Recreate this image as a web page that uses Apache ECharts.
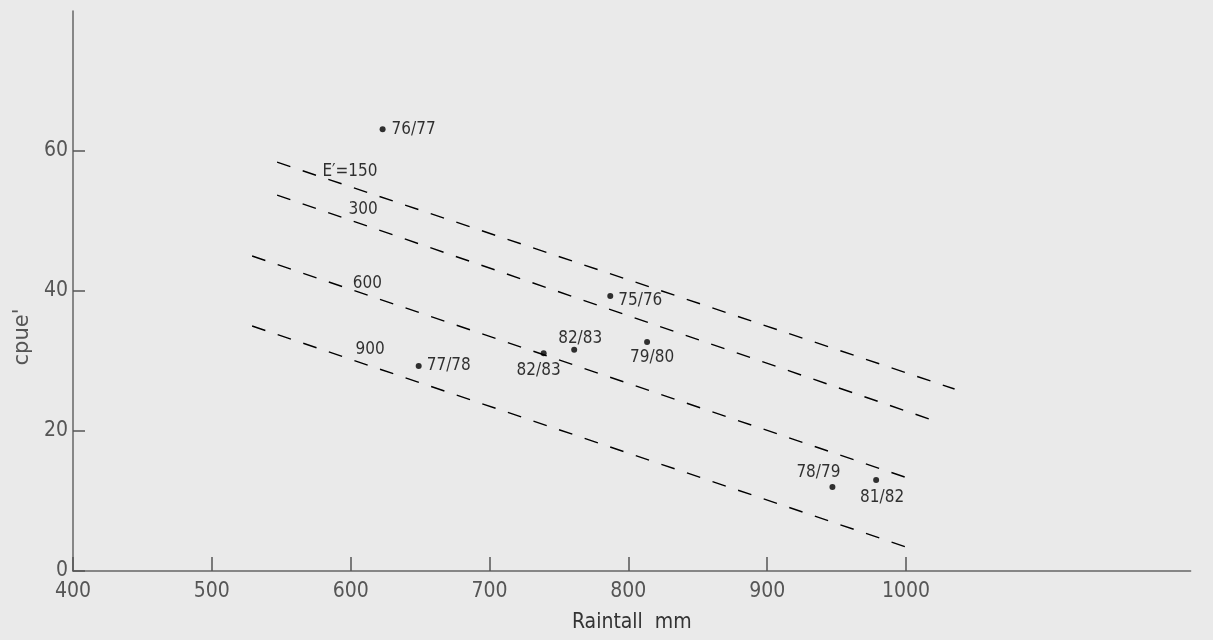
<!DOCTYPE html>
<html>
<head>
<meta charset="utf-8">
<script src="https://cdn.jsdelivr.net/npm/echarts@6/dist/echarts.min.js"></script>
<style>
html,body{margin:0;padding:0;background:#eaeaea}
#main{width:1213px;height:640px}
</style>
</head>
<body>
<div id="main"></div>
<script>
// 年度标签
var seasons = ['76/77', '75/76', '82/83', '82/83', '79/80', '77/78', '78/79', '81/82'];
// 降雨量 (mm)
var rainfall = [623, 787, 739, 761, 813.5, 649, 947, 978.5];
// cpue'
var cpue = [63.1, 39.3, 31.1, 31.6, 32.7, 29.3, 12, 13];

// 等 E' 虚线
var lineLabels = ['E′=150', '300', '600', '900'];
var lineStartX = [547, 547, 529, 529];
var lineStartY = [58.4, 53.7, 45, 35];
var lineEndX = [1035, 1017, 999.5, 1000.5];
var lineEndY = [26, 21.7, 13.4, 3.4];
// 虚线标注位置
var lineLabelX = [599.5, 609, 612, 614];
var lineLabelY = [57.1, 51.7, 41.1, 31.7];

// 刻度
var xTicks = [400, 500, 600, 700, 800, 900, 1000];
var yTicks = [0, 20, 40, 60];

var fontName = '"DejaVu Sans Condensed", "DejaVu Sans", sans-serif';
var ink = '#000';

// 点标签的摆放
var pointLabelPos = [
	{position: 'right', distance: 6},
	{position: 'right', distance: 5, offset: [0, 5]},
	{position: 'bottom', distance: 6, offset: [-5, 0]},
	{position: 'top', distance: 0, offset: [6, 0]},
	{position: 'bottom', distance: 4, offset: [5, 0]},
	{position: 'right', distance: 5},
	{position: 'top', distance: 3, offset: [-14, 0]},
	{position: 'bottom', distance: 6, offset: [6, 0]}
];

var pointData = [];
for (var i = 0; i < seasons.length; i++) {
	var p = pointLabelPos[i];
	pointData.push({
		name: seasons[i],
		value: [rainfall[i], cpue[i]],
		label: {position: p.position, distance: p.distance, offset: p.offset || [0, 0]}
	});
}

var series = [];
for (var k = 0; k < lineLabels.length; k++) {
	series.push({
		type: 'line',
		xAxisIndex: 1,
		yAxisIndex: 1,
		silent: true,
		symbol: 'none',
		lineStyle: {color: ink, width: 1.4, type: [14, 13]},
		data: [[lineStartX[k], lineStartY[k]], [lineEndX[k], lineEndY[k]]]
	});
}
// 虚线标注
var lineLabelData = [];
for (var m = 0; m < lineLabels.length; m++) {
	lineLabelData.push({name: lineLabels[m], value: [lineLabelX[m], lineLabelY[m]]});
}
series.push({
	type: 'scatter',
	xAxisIndex: 1,
	yAxisIndex: 1,
	silent: true,
	symbolSize: 1,
	itemStyle: {color: 'rgba(0,0,0,0)'},
	label: {
		show: true,
		position: 'inside',
		formatter: '{b}',
		color: ink,
		fontFamily: fontName,
		fontSize: 17
	},
	data: lineLabelData
});
// 数据点
series.push({
	type: 'scatter',
	xAxisIndex: 1,
	yAxisIndex: 1,
	silent: true,
	symbolSize: 6,
	itemStyle: {color: ink},
	label: {
		show: true,
		formatter: '{b}',
		color: ink,
		fontFamily: fontName,
		fontSize: 17
	},
	data: pointData
});

var myChart = echarts.init(document.getElementById('main'));
var option = {
	backgroundColor: '#eaeaea',
	animation: false,
	grid: [
		// 刻度用
		{left: 73, top: 151, width: 833, height: 420},
		// 轴线和数据
		{left: 73, top: 11, width: 1117.6, height: 560}
	],
	xAxis: [
		{
			gridIndex: 0,
			type: 'value',
			min: xTicks[0],
			max: xTicks[xTicks.length - 1],
			interval: xTicks[1] - xTicks[0],
			axisLine: {show: false},
			axisTick: {show: true, inside: true, length: 14, lineStyle: {color: '#555', width: 1.5}},
			axisLabel: {
				color: '#555', fontFamily: fontName, fontSize: 21, margin: 10,
				formatter: function (v) { return String(v); }
			},
			splitLine: {show: false}
		},
		{
			gridIndex: 1,
			type: 'value',
			min: 400,
			max: 1205,
			axisLine: {show: true, lineStyle: {color: '#666', width: 1.5}},
			axisTick: {show: false},
			axisLabel: {show: false},
			splitLine: {show: false},
			name: 'Raintall  mm',
			nameLocation: 'middle',
			nameGap: 41,
			nameTextStyle: {color: '#333', fontFamily: fontName, fontSize: 21}
		}
	],
	yAxis: [
		{
			gridIndex: 0,
			type: 'value',
			min: yTicks[0],
			max: yTicks[yTicks.length - 1],
			interval: yTicks[1] - yTicks[0],
			axisLine: {show: false},
			axisTick: {show: true, inside: true, length: 12, lineStyle: {color: '#555', width: 1.5}},
			axisLabel: {color: '#555', fontFamily: fontName, fontSize: 21, margin: 5},
			splitLine: {show: false}
		},
		{
			gridIndex: 1,
			type: 'value',
			min: 0,
			max: 80,
			axisLine: {show: true, lineStyle: {color: '#666', width: 1.5}},
			axisTick: {show: false},
			axisLabel: {show: false},
			splitLine: {show: false}
		}
	],
	graphic: [{
		type: 'text',
		x: 23,
		y: 337,
		rotation: Math.PI / 2,
		style: {
			text: "cpue'",
			font: '21px "DejaVu Sans"',
			fill: '#555',
			align: 'center',
			verticalAlign: 'middle'
		}
	}],
	series: series
};
myChart.setOption(option);
</script>
</body>
</html>
